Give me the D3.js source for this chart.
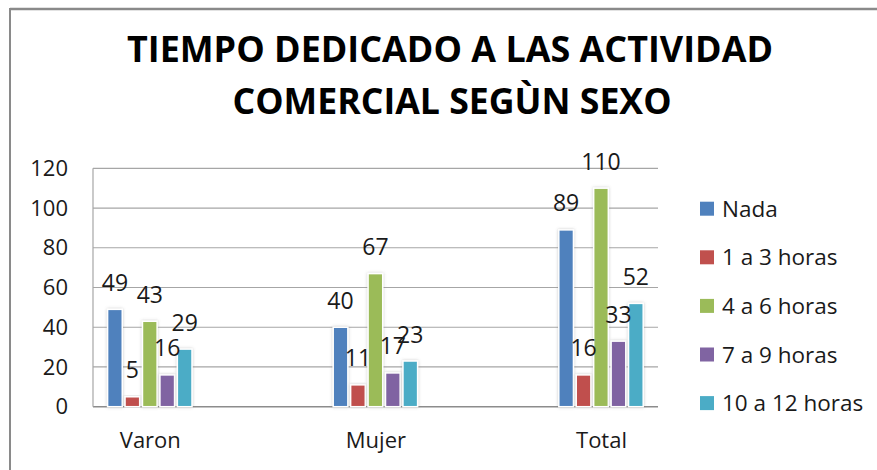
<!DOCTYPE html>
<html>
<head>
<meta charset="utf-8">
<script src="https://d3js.org/d3.v7.min.js"></script>
<style>
  body { margin: 0; background: #fff; }
  text { font-family: "Open Sans", "DejaVu Sans", sans-serif; fill: #1a1a1a; }
</style>
</head>
<body>
<script>
// data
var categories = ["Varon", "Mujer", "Total"];
var series = ["Nada", "1 a 3 horas", "4 a 6 horas", "7 a 9 horas", "10 a 12 horas"];
var nada     = [49, 40, 89];
var h1a3     = [5, 11, 16];
var h4a6     = [43, 67, 110];
var h7a9     = [16, 17, 33];
var h10a12   = [29, 23, 52];
var yTicks   = [0, 20, 40, 60, 80, 100, 120];
var colors   = ["#4F81BD", "#C0504D", "#9BBB59", "#8064A2", "#4BACC6"];
var titleLines = ["TIEMPO DEDICADO A LAS ACTIVIDAD", "COMERCIAL SEGÙN SEXO"];

var values = [nada, h1a3, h4a6, h7a9, h10a12];

var width = 877, height = 470;
var plotLeft = 93, plotRight = 658, plotTop = 168.3, plotBottom = 406.7;

var svg = d3.select("body").append("svg")
  .attr("width", width)
  .attr("height", height);

var defs = svg.append("defs");
var f = defs.append("filter").attr("id", "glow")
  .attr("x", "-30%").attr("y", "-10%").attr("width", "160%").attr("height", "120%");
f.append("feDropShadow")
  .attr("dx", 0).attr("dy", 0)
  .attr("stdDeviation", 1.6)
  .attr("flood-color", "#777")
  .attr("flood-opacity", 0.4);

// chart frame
svg.append("line")
  .attr("x1", 10).attr("x2", width).attr("y1", 9).attr("y2", 9)
  .attr("stroke", "#8a8a8a").attr("stroke-width", 2.5);
svg.append("line")
  .attr("x1", 10).attr("x2", 10).attr("y1", 8).attr("y2", height)
  .attr("stroke", "#8a8a8a").attr("stroke-width", 2);

// title
var titleX = [450, 452], titleY = [62, 113.5], titleW = [646, 439];
svg.selectAll(".title")
  .data(titleLines)
  .enter().append("text")
  .attr("class", "title")
  .attr("x", function(d, i) { return titleX[i]; })
  .attr("y", function(d, i) { return titleY[i]; })
  .attr("text-anchor", "middle")
  .attr("textLength", function(d, i) { return titleW[i]; })
  .attr("lengthAdjust", "spacingAndGlyphs")
  .style("font-size", "35px")
  .style("font-weight", "bold")
  .style("fill", "#000")
  .text(function(d) { return d; });

var y = d3.scaleLinear().domain([0, 120]).range([plotBottom, plotTop]);
var x0 = d3.scalePoint().domain(categories).range([149.8, 601]);
var x1 = d3.scaleBand().domain(series).range([-42.2, 42.2]).paddingInner(0.16).paddingOuter(0);
var color = d3.scaleOrdinal().domain(series).range(colors);

// gridlines
svg.selectAll(".grid")
  .data(yTicks)
  .enter().append("line")
  .attr("x1", plotLeft).attr("x2", plotRight)
  .attr("y1", function(d) { return y(d); })
  .attr("y2", function(d) { return y(d); })
  .attr("stroke", function(d) { return d === 0 ? "#8c8c8c" : "#a6a6a6"; })
  .attr("stroke-width", function(d) { return d === 0 ? 1.5 : 1.2; });
svg.append("line")
  .attr("x1", plotLeft).attr("x2", plotLeft)
  .attr("y1", y(120)).attr("y2", y(0))
  .attr("stroke", "#a6a6a6").attr("stroke-width", 1.2);

// y axis
var yAxis = svg.append("g")
  .attr("transform", "translate(" + plotLeft + ",0)")
  .call(d3.axisLeft(y).tickValues(yTicks).tickSize(0).tickPadding(25));
yAxis.select(".domain").remove();
yAxis.selectAll("text")
  .style("font-size", "22px")
  .style("font-family", "\"Open Sans\", sans-serif")
  .attr("fill", "#1a1a1a");

// x axis labels
var xAxis = svg.append("g")
  .attr("transform", "translate(0," + plotBottom + ")")
  .call(d3.axisBottom(x0).tickSize(0).tickPadding(26));
xAxis.select(".domain").remove();
xAxis.selectAll("text")
  .style("font-size", "22px")
  .style("font-family", "\"Open Sans\", sans-serif")
  .attr("fill", "#1a1a1a");

// bars
var rows = [];
categories.forEach(function(c, ci) {
  series.forEach(function(s, si) {
    rows.push({ cat: c, ser: s, v: values[si][ci] });
  });
});

svg.selectAll(".bar")
  .data(rows)
  .enter().append("rect")
  .attr("class", "bar")
  .attr("x", function(d) { return x0(d.cat) + x1(d.ser); })
  .attr("y", function(d) { return y(d.v); })
  .attr("width", x1.bandwidth())
  .attr("height", function(d) { return y(0) - y(d.v); })
  .attr("fill", function(d) { return color(d.ser); })
  .attr("stroke", "#fff")
  .attr("stroke-width", 1.5)
  .attr("filter", "url(#glow)");

svg.selectAll(".lbl")
  .data(rows)
  .enter().append("text")
  .attr("class", "lbl")
  .attr("x", function(d) { return x0(d.cat) + x1(d.ser) + x1.bandwidth() / 2; })
  .attr("y", function(d) { return y(d.v) - 18.5; })
  .attr("text-anchor", "middle")
  .style("font-size", "23px")
  .text(function(d) { return d.v; });

// legend
var legend = svg.selectAll(".leg")
  .data(series)
  .enter().append("g")
  .attr("transform", function(d, i) { return "translate(700," + (208.7 + i * 48.6) + ")"; });
legend.append("rect")
  .attr("x", 0).attr("y", -7)
  .attr("width", 14).attr("height", 14)
  .attr("fill", function(d) { return color(d); });
legend.append("text")
  .attr("x", 22).attr("y", 8)
  .style("font-size", "22.5px")
  .text(function(d) { return d; });
</script>
</body>
</html>
